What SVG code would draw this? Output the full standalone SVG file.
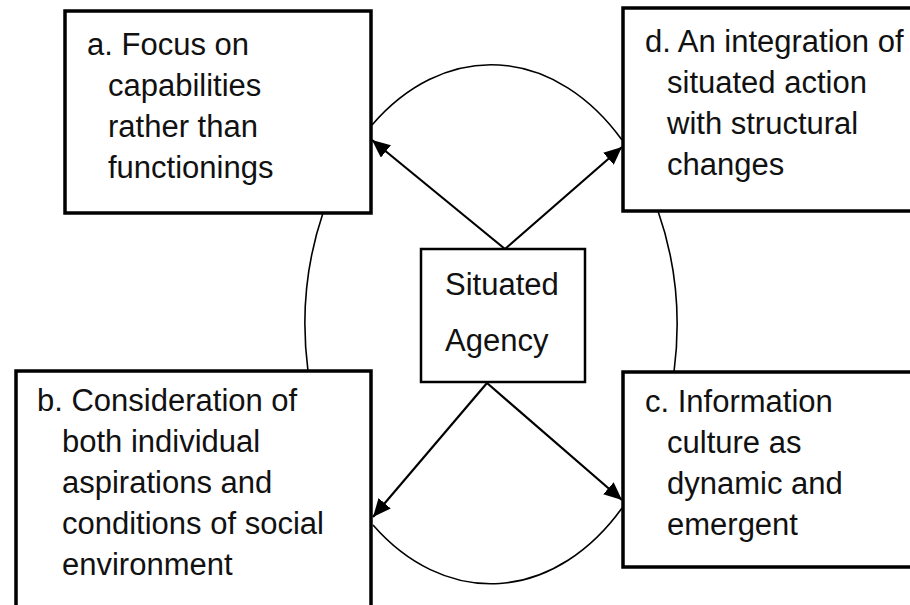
<svg xmlns="http://www.w3.org/2000/svg" width="910" height="605" viewBox="0 0 910 605">
<style>
.box{fill:#fff;stroke:#000;stroke-width:3.5}
.cbox{fill:#fff;stroke:#000;stroke-width:2.5}
text{font-family:"Liberation Sans",Arial,sans-serif;font-size:31px;fill:#111}
.arc{fill:none;stroke:#000;stroke-width:1.6}
.arr{fill:none;stroke:#000;stroke-width:2.2;marker-end:url(#ah)}
</style>
<defs>
<marker id="ah" markerUnits="userSpaceOnUse" markerWidth="20" markerHeight="16" refX="18" refY="8" orient="auto">
<path d="M0,0 L18,8 L0,16 Z" fill="#000"/>
</marker>
</defs>
<rect width="910" height="605" fill="#fff"/>
<g id="connectors">
<path class="arc" d="M372,125 A186,260 0 0 1 622,140"/>
<path class="arc" d="M658,211 A186,260 0 0 1 674,372"/>
<path class="arc" d="M622,508 A186,260 0 0 1 373,525"/>
<path class="arc" d="M308,371 A186,260 0 0 1 323,213"/>
<line class="arr" x1="505" y1="249" x2="372" y2="140"/>
<line class="arr" x1="505" y1="249" x2="622" y2="147"/>
<line class="arr" x1="487" y1="383" x2="622" y2="500"/>
<line class="arr" x1="487" y1="383" x2="373" y2="517"/>
</g>
<g id="node-a">
<rect class="box" x="65" y="11" width="306" height="202"/>
<text x="87" y="55">a. Focus on</text>
<text x="108" y="96">capabilities</text>
<text x="108" y="137">rather than</text>
<text x="108" y="178">functionings</text>
</g>
<g id="node-d">
<rect class="box" x="623" y="8" width="300" height="203"/>
<text x="645" y="52">d. An integration of</text>
<text x="667" y="93">situated action</text>
<text x="667" y="134">with structural</text>
<text x="667" y="175">changes</text>
</g>
<g id="node-b">
<rect class="box" x="16" y="371" width="355" height="250"/>
<text x="37" y="411">b. Consideration of</text>
<text x="62" y="452">both individual</text>
<text x="62" y="493">aspirations and</text>
<text x="62" y="534">conditions of social</text>
<text x="62" y="575">environment</text>
</g>
<g id="node-c">
<rect class="box" x="623" y="372" width="300" height="195"/>
<text x="645" y="412">c. Information</text>
<text x="667" y="453">culture as</text>
<text x="667" y="494">dynamic and</text>
<text x="667" y="535">emergent</text>
</g>
<g id="node-center">
<rect class="cbox" x="421" y="249" width="164" height="133"/>
<text x="445" y="295">Situated</text>
<text x="445" y="351">Agency</text>
</g>
</svg>
